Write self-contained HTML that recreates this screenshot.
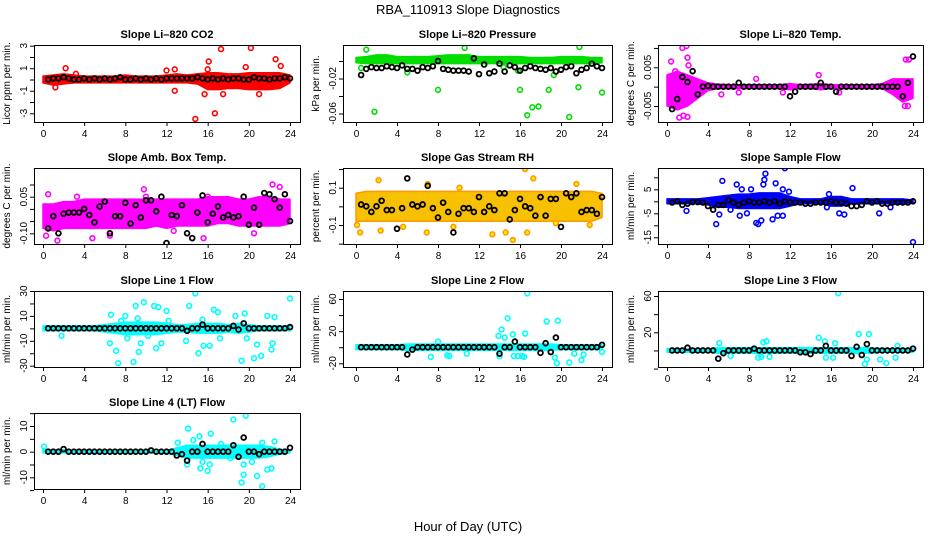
<!DOCTYPE html>
<html><head><meta charset="utf-8"><style>
html,body{margin:0;padding:0;background:#fff;}
svg{display:block;font-family:"Liberation Sans",sans-serif;}
</style></head><body>
<svg id="chart" width="936" height="540" viewBox="0 0 936 540">
<text x="468" y="14" text-anchor="middle" font-size="13">RBA_110913  Slope Diagnostics</text>
<text x="468" y="531" text-anchor="middle" font-size="13">Hour of Day (UTC)</text>
</svg>
<script>
const xTicks=[0,4,8,12,16,20,24];
const bandHours=[0,1,2,3,4,5,6,7,8,9,10,11,12,13,14,15,16,17,18,19,20,21,22,23,24];
const blackHours=[0.5,1,1.5,2,2.5,3,3.5,4,4.5,5,5.5,6,6.5,7,7.5,8,8.5,9,9.5,10,10.5,11,11.5,12,12.5,13,13.5,14,14.5,15,15.5,16,16.5,17,17.5,18,18.5,19,19.5,20,20.5,21,21.5,22,22.5,23,23.5,24];

// CO2
const co2Lo=[-0.3,-0.5,-0.4,-0.3,-0.3,-0.3,-0.3,-0.3,-0.3,-0.3,-0.3,-0.3,-0.3,-0.3,-0.3,-0.4,-0.9,-0.9,-0.8,-0.8,-0.9,-0.9,-0.9,-0.8,-0.3];
const co2Hi=[0.3,0.4,0.5,0.4,0.3,0.3,0.3,0.3,0.4,0.3,0.3,0.3,0.4,0.5,0.4,0.5,0.6,0.6,0.5,0.5,0.6,0.6,0.6,0.6,0.4];
const co2Out=[[2.2,1.0],[12.8,0.9],[12.8,-1.0],[14.8,-3.5],[16.1,1.6],[16.7,-3],[17.3,2.7],[20.2,2.8],[22.6,1.8],[21.0,-1.3],[17.5,-1.3],[15.7,-1.3],[12,0.8],[1.2,-0.7],[3.2,0.5],[16,0.9],[19.7,1.1],[23.1,1.2]];
const co2Blk=[0,0.1,0.1,0.2,0.1,0,0,0.1,0,0.1,0,0.1,0,0.1,0.2,0,0,0.1,0,0.1,0,0.1,0,0.1,0.1,0.1,0.1,0.1,0.1,0.2,0.1,0,0.1,0,0.1,0,0.1,0.1,0,0,0.2,0.1,0.1,0,0.1,0.1,0.2,0.1];
// Pressure
const prLo=[-0.002,-0.003,-0.003,-0.003,-0.003,-0.003,-0.003,-0.003,-0.003,-0.003,-0.003,-0.003,-0.003,-0.003,-0.003,-0.003,-0.003,-0.003,-0.003,-0.003,-0.003,-0.003,-0.003,-0.003,-0.002];
const prHi=[0.004,0.005,0.007,0.007,0.005,0.005,0.005,0.005,0.006,0.007,0.007,0.007,0.005,0.005,0.005,0.005,0.005,0.004,0.004,0.004,0.005,0.005,0.005,0.004,0.004];
const prOut=[[1.8,-0.058],[8,-0.033],[16,-0.033],[16.7,-0.062],[17.2,-0.053],[17.8,-0.052],[18.8,-0.033],[20.8,-0.064],[21.7,-0.03],[24,-0.036],[1.0,0.013],[10.6,0.015],[21.8,0.016],[5,-0.013],[19.3,-0.016],[15.8,-0.011],[0.5,-0.008],[14.4,-0.007]];
const prBlk=[-0.016,-0.009,-0.007,-0.008,-0.008,-0.006,-0.007,-0.008,-0.005,-0.009,-0.009,-0.011,-0.007,-0.008,-0.006,0,-0.009,-0.01,-0.011,-0.011,-0.011,-0.012,0.003,-0.015,-0.004,-0.014,-0.012,-0.003,-0.012,-0.005,-0.007,-0.011,-0.008,-0.006,-0.008,-0.009,-0.01,-0.008,-0.012,-0.01,-0.007,-0.006,-0.014,-0.01,-0.008,-0.003,-0.006,-0.008];
// Li-820 temp
const tpLo=[-0.005,-0.006,-0.005,-0.003,-0.001,-0.0005,-0.0005,-0.0005,-0.0005,-0.0005,-0.0005,-0.0005,-0.0008,-0.0005,-0.0005,-0.0008,-0.0005,-0.0005,-0.0005,-0.0005,-0.0005,-0.0005,-0.002,-0.004,-0.003];
const tpHi=[0.003,0.004,0.003,0.002,0.001,0.0006,0.0005,0.0005,0.0005,0.0005,0.0005,0.0005,0.0008,0.0005,0.0006,0.0008,0.0005,0.0005,0.0005,0.0005,0.0005,0.0008,0.002,0.002,0.002];
const tpOut=[[1.5,0.010],[1.9,0.0105],[2.0,0.0075],[2.1,0.0055],[0.4,0.0065],[1.6,-0.0075],[2,-0.0078],[1.2,-0.008],[1,-0.005],[23.3,0.007],[23.6,0.007],[23.2,-0.005],[23.5,-0.005],[14.8,0.003],[8.7,0.002],[5.3,-0.002],[7,-0.0015],[16.8,-0.0015],[11.3,-0.0015],[0.8,0.004]];
const tpBlk=[-0.0058,-0.0032,0.0025,0.0012,0.004,-0.002,0,0.0002,0,0,0,0,0,0.001,0,0,0,0,0,0,0,0,0,-0.0025,-0.0013,0,0,0,0,0.001,0,0,-0.0013,0,0,0,0,0,0,0,0,0,0,0,0,-0.0025,0.001,0.0078];
// Amb box temp
const abLo=[-0.08,-0.09,-0.08,-0.08,-0.08,-0.08,-0.08,-0.08,-0.08,-0.08,-0.08,-0.07,-0.08,-0.07,-0.07,-0.07,-0.07,-0.06,-0.06,-0.07,-0.07,-0.07,-0.07,-0.07,-0.06];
const abHi=[0.02,0.02,0.03,0.03,0.04,0.04,0.04,0.04,0.04,0.04,0.04,0.04,0.04,0.04,0.04,0.04,0.05,0.05,0.05,0.04,0.04,0.05,0.05,0.04,0.04];
const abOut=[[0.5,0.06],[9.8,0.08],[23,0.09],[1.4,-0.13],[0.3,-0.11],[4.8,-0.12],[15.6,-0.12],[22.3,0.1],[16,0.05],[10,0.05],[3.3,0.05],[6.5,-0.11],[20.5,-0.1],[12.7,-0.09]];
const abBlk=[-0.08,-0.03,-0.1,-0.02,-0.015,-0.015,-0.015,0,-0.025,-0.055,0.01,0.03,-0.1,-0.03,-0.03,0.025,-0.06,0.015,-0.035,0.035,0.035,-0.01,0.05,-0.14,-0.025,-0.03,0.015,-0.1,-0.12,-0.015,0.055,-0.055,-0.02,0.01,-0.035,-0.025,-0.035,-0.03,0.05,-0.065,0.005,-0.065,0.065,0.06,0.04,0.005,0.06,-0.05];
// Gas stream RH
const rhLo=[-0.08,-0.08,-0.08,-0.08,-0.08,-0.08,-0.08,-0.08,-0.08,-0.08,-0.08,-0.08,-0.08,-0.08,-0.08,-0.08,-0.08,-0.08,-0.08,-0.08,-0.08,-0.08,-0.08,-0.08,-0.06];
const rhHi=[0.07,0.08,0.08,0.08,0.08,0.08,0.08,0.08,0.08,0.08,0.08,0.08,0.08,0.08,0.08,0.08,0.08,0.08,0.08,0.08,0.08,0.08,0.08,0.08,0.07];
const rhOut=[[0.4,-0.14],[2.2,0.14],[2.4,-0.13],[6.9,-0.14],[7,0.12],[13.3,-0.15],[14.6,-0.14],[15.3,-0.18],[16.5,0.2],[16.7,-0.14],[17.3,0.15],[0.1,-0.1],[19.5,-0.09],[22.8,-0.1],[21.5,0.12],[10.1,0.1],[4.6,-0.11],[9.5,-0.11]];
const rhBlk=[0.01,0,-0.03,0,0.03,-0.02,-0.02,-0.12,-0.01,0.15,0.01,0,0.01,0.11,-0.01,-0.06,0.02,-0.03,-0.14,-0.04,-0.01,-0.01,-0.03,0.05,-0.03,0,-0.02,0.07,0.07,-0.07,-0.02,0.04,0,-0.01,-0.05,0.05,-0.05,0.04,0.04,-0.11,0.07,0.05,0.07,-0.03,-0.02,-0.02,-0.04,0.05];
// Sample flow
const sfLo=[-1,-1,-1,-1,-1.5,-2.5,-2.5,-3,-3,-3,-3,-3,-2,-1,-1,-1,-2,-2,-1,-1,-1,-1,-1,-1,-0.5];
const sfHi=[1,1,1,1,1.5,2,2.5,3,3,3.5,3.5,3.5,2,1,1,1,2,2,1,1,1,1,1,1,0.5];
const sfOut=[[1.9,-4],[5.4,8.5],[6.8,7],[4.8,-9.5],[5.1,-5.5],[7.3,5],[7.1,-6],[7.8,-5],[8.2,5],[8.7,-9],[8.9,-9.5],[9.2,-8],[9.4,7],[9.6,11.5],[9.5,9],[10.3,-7.5],[10.6,7.5],[10.8,-6],[11.3,-6],[11.5,13.8],[11.3,5],[11.9,4],[6.2,-3.5],[15.8,3],[16.8,-5],[17.3,-5.5],[18.1,5.5],[20.7,-5],[24,-17],[15.6,-2.5],[21.8,-2.5]];
const sfBlk=[-0.5,0,-1.5,-1,-0.3,-0.3,-0.5,-2,-3.5,-1.5,-1.5,0.5,-0.5,-1.5,-0.5,0,-0.5,-0.5,0,-0.5,0,-1,0,-0.5,-0.5,-0.5,-1,-1,-0.5,-0.5,-0.5,0,-0.5,-0.5,-1,-2,-2,-1.5,0,-0.5,0,-1,-1,-0.5,-0.5,-0.5,-0.5,0];
// Line 1 flow
const l1Lo=[-2,-2,-2,-2,-2,-2,-3,-4,-5,-5,-5,-5,-4,-3,-3,-4,-4,-4,-3,-4,-3,-2,-2,-2,-2];
const l1Hi=[2,2,2,2,2,2,3,4,5,5,5,5,4,3,3,4,4,4,3,4,3,2,2,2,2];
const l1Out=[[1.8,-6],[6.5,-12],[6.6,11],[7.1,-18],[7.3,-28],[8,10],[8.2,-8],[8.8,-27],[9,18],[9.3,-19],[9.5,-12],[9.8,21],[10.8,18],[11,-16],[11.2,17],[11.5,-12],[12,14],[12.2,6],[13.9,-10],[14.2,18],[14.8,28],[15.1,-20],[15.6,-14],[16.2,-14],[16.6,15],[17,13],[17.2,-8],[18.7,10],[19.3,-26],[19.6,12],[19.8,-8],[20.5,-24],[20.8,-13],[21.2,-22],[21.8,10],[22.2,-17],[22.5,9],[22.3,-12],[24,24],[9.2,8],[10.2,-6],[7.6,6],[15.5,7]];
const l1Blk=[0,0,0,0,0,0,0,0,0,0,0,0,0,0,0,0,0,0,0,0,0,0,0,0,0,0,0,-2,0,0,3,0,0,0,0,0,2,-1,4,0,0,0,0,0,0,0,0,1];
// Line 2 flow
const l2Lo=[-3,-3,-3,-3,-3,-4,-4,-4,-4,-4,-4,-4,-4,-4,-4,-4,-4,-4,-4,-4,-3,-3,-3,-3,-3];
const l2Hi=[3,3,3,3,3,4,4,4,4,4,4,4,4,4,4,4,4,4,4,4,3,3,3,3,3];
const l2Out=[[7.3,-12],[8,7],[8.9,-10],[9.1,-11],[10.8,-8],[13.9,14],[14,-11],[14.2,22],[14.5,12],[14.8,36],[15.4,-11],[15.8,-11],[16.2,-11],[16.5,17],[16.7,67],[18.6,32],[19.7,33],[19.6,-20],[19.4,-13],[20.8,-19],[21.3,-8],[22,-16],[22.2,-9],[24,-6],[15.3,16],[16.4,-12]];
const l2Blk=[0,0,0,0,0,0,0,0,0,-9,-3,0,0,0,0,0,0,0,0,0,0,0,0,0,0,0,0,-8,0,0,7,0,0,0,0,-7,5,-6,12,0,0,0,0,0,0,0,0,3];
// Line 3 flow
const l3Lo=[-2,-2,-2,-2,-2,-3,-3,-3,-3,-3,-3,-3,-3,-3,-3,-3,-3,-3,-3,-3,-3,-2,-2,-2,-2];
const l3Hi=[2,2,2,2,2,3,3,3,3,3,3,3,3,3,3,3,3,3,3,3,3,2,2,2,2];
const l3Out=[[5.1,8],[6.2,-6],[8.9,-8],[9.2,-7],[9.4,9],[9.7,10],[10,-7],[14.8,14],[15.4,10],[15.5,-8],[16.2,-8],[16.4,8],[16.7,63],[18.7,18],[19.7,18],[19.5,-10],[19.3,-15],[20.8,-10],[21.4,-14],[22.3,-8],[22.5,5]];
const l3Blk=[0,0,0,3,0,0,0,0,0,-9,-3,0,0,0,0,0,2,0,0,0,0,0,0,0,0,-2,-2,-4,0,0,5,0,0,0,0,-6,4,-5,7,0,0,0,0,0,0,0,0,2];
// Line 4 flow
const l4Lo=[-0.5,-0.5,-0.5,-0.5,-0.5,-0.5,-0.5,-0.5,-0.5,-0.5,-0.5,-0.5,-0.5,-1.5,-2.5,-2.5,-2.5,-2.5,-2.5,-2.5,-2.5,-2.5,-2,-1,-0.5];
const l4Hi=[1,0.5,0.8,0.5,0.5,0.5,0.5,0.5,0.5,0.5,0.5,0.5,0.5,1.5,2.5,2.5,2.5,2.5,2.5,2.5,2.5,2.5,2,1,0.5];
const l4Out=[[14.1,9],[14,-5],[14.6,4.5],[15.2,6],[15.3,-6.5],[15.5,-4],[16,-7.5],[16.2,-5],[16.3,7],[17.3,3],[18.5,12.5],[19.3,-12],[19.5,-5],[19.5,-9],[19.7,14],[20.3,-4],[20.8,-9.5],[21.3,-13.5],[21.3,3.5],[21.8,-7],[22.2,-6.5],[22.5,4],[18.2,-2.5],[0.1,2],[13.1,3.5]];
const l4Blk=[0,0,0,1,0,0,0,0,0,0,0,0,0,0,0,0,0,0,0,0,0.5,0,0,0,0,-1.5,-1,-3.5,0,0,3,0,0,0,0,0,2.5,-2,5.5,0,0,-1,0,0,0,0,0,1.5];

const panels=[
 {id:'co2',title:'Slope Li\u2013820 CO2',ylab:'Licor ppm per min.',col:'#ff0000',fill:'#ff0000',bx:[34,300],by:[45,122],xp:[43,290],yv:[3,-3],yp:[45.7,113.3],ticks:[3,2,1,0,-1,-2,-3],labels:['3','1','-1','-3'],lv:[3,1,-1,-3],lo:co2Lo,hi:co2Hi,out:co2Out,blk:co2Blk},
 {id:'pressure',title:'Slope Li\u2013820 Pressure',ylab:'kPa per min.',col:'#00dd00',fill:'#00dd00',bx:[343,612],by:[45,122],xp:[356,602],yv:[0,-0.06],yp:[61,113.5],ticks:[0,-0.02,-0.04,-0.06],labels:['-0.02','-0.06'],lv:[-0.02,-0.06],lo:prLo,hi:prHi,out:prOut,blk:prBlk},
 {id:'li820-temp',title:'Slope Li\u2013820 Temp.',ylab:'degrees C per min.',col:'#ff00ff',fill:'#ff00ff',bx:[658,923],by:[45,122],xp:[667,913],yv:[0.005,-0.005],yp:[67.3,106],ticks:[0.01,0.005,0,-0.005],labels:['0.005','-0.005'],lv:[0.005,-0.005],lo:tpLo,hi:tpHi,out:tpOut,blk:tpBlk},
 {id:'amb-box-temp',title:'Slope Amb. Box Temp.',ylab:'degrees C per min.',col:'#ff00ff',fill:'#ff00ff',bx:[34,300],by:[168,244],xp:[43,290],yv:[0.05,-0.1],yp:[196.7,233.3],ticks:[0.1,0.05,0,-0.05,-0.1],labels:['0.05','-0.10'],lv:[0.05,-0.1],lo:abLo,hi:abHi,out:abOut,blk:abBlk},
 {id:'gas-stream-rh',title:'Slope Gas Stream RH',ylab:'percent per min.',col:'#ff9900',fill:'#f7c000',bx:[343,612],by:[168,244],xp:[356,602],yv:[0.1,-0.1],yp:[187.7,225],ticks:[0.2,0.1,0,-0.1,-0.2],labels:['0.1','-0.1'],lv:[0.1,-0.1],lo:rhLo,hi:rhHi,out:rhOut,blk:rhBlk},
 {id:'sample-flow',title:'Slope Sample Flow',ylab:'ml/min per min.',col:'#0000ff',fill:'#0000ff',bx:[658,923],by:[168,244],xp:[667,913],yv:[5,-15],yp:[189.3,237.3],ticks:[10,5,0,-5,-10,-15],labels:['5','-5','-15'],lv:[5,-5,-15],lo:sfLo,hi:sfHi,out:sfOut,blk:sfBlk},
 {id:'line1-flow',title:'Slope Line 1 Flow',ylab:'ml/min per min.',col:'#00ffff',fill:'#00ffff',bx:[34,300],by:[291,367],xp:[43,290],yv:[30,-30],yp:[291,365.7],ticks:[30,20,10,0,-10,-20,-30],labels:['30','10','-10','-30'],lv:[30,10,-10,-30],lo:l1Lo,hi:l1Hi,out:l1Out,blk:l1Blk},
 {id:'line2-flow',title:'Slope Line 2 Flow',ylab:'ml/min per min.',col:'#00ffff',fill:'#00ffff',bx:[343,612],by:[291,367],xp:[356,602],yv:[60,-20],yp:[299,363.3],ticks:[60,40,20,0,-20],labels:['60','20','-20'],lv:[60,20,-20],lo:l2Lo,hi:l2Hi,out:l2Out,blk:l2Blk},
 {id:'line3-flow',title:'Slope Line 3 Flow',ylab:'ml/min per min.',col:'#00ffff',fill:'#00ffff',bx:[658,923],by:[291,367],xp:[667,913],yv:[60,20],yp:[296,332.3],ticks:[60,40,20,0,-20],labels:['60','20'],lv:[60,20],lo:l3Lo,hi:l3Hi,out:l3Out,blk:l3Blk},
 {id:'line4-flow',title:'Slope Line 4 (LT) Flow',ylab:'ml/min per min.',col:'#00ffff',fill:'#00ffff',bx:[34,300],by:[413,489],xp:[43,290],yv:[10,-10],yp:[426,477.3],ticks:[15,10,5,0,-5,-10,-15],labels:['10','0','-10'],lv:[10,0,-10],lo:l4Lo,hi:l4Hi,out:l4Out,blk:l4Blk}
];

const NS='http://www.w3.org/2000/svg';
const svg=document.getElementById('chart');
function mk(tag,attrs,parent){const e=document.createElementNS(NS,tag);for(const k in attrs)e.setAttribute(k,attrs[k]);parent.appendChild(e);return e;}

panels.forEach(p=>{
  const g=mk('g',{},svg);
  
  
  const xs=h=>p.xp[0]+(h/24)*(p.xp[1]-p.xp[0]);
  const ys=v=>p.yp[0]+(v-p.yv[0])*(p.yp[1]-p.yp[0])/(p.yv[1]-p.yv[0]);
  const cx=(p.bx[0]+p.bx[1])/2, cy=(p.by[0]+p.by[1])/2;
  const clipId='clip-'+p.id;
  const cp=mk('clipPath',{id:clipId},g);
  mk('rect',{x:p.bx[0],y:p.by[0],width:p.bx[1]-p.bx[0],height:p.by[1]-p.by[0]},cp);
  const t=mk('text',{x:cx,y:p.by[0]-7,'text-anchor':'middle','font-size':'11','font-weight':'bold'},g);
  t.textContent=p.title;
  
  
  const yl=mk('text',{x:0,y:0,'text-anchor':'middle','font-size':'10',transform:`translate(${p.bx[0]-24},${cy}) rotate(-90)`},g);
  yl.textContent=p.ylab;
  
  
  const plot=mk('g',{'clip-path':`url(#${clipId})`},g);
  
  
  let pts=bandHours.map((h,i)=>`${xs(h).toFixed(1)},${ys(p.hi[i]).toFixed(1)}`);
  for(let i=bandHours.length-1;i>=0;i--)pts.push(`${xs(bandHours[i]).toFixed(1)},${ys(p.lo[i]).toFixed(1)}`);
  const band=mk('polygon',{points:pts.join(' '),fill:p.fill,stroke:p.col,'stroke-width':'1.5','stroke-linejoin':'round'},plot);
  
  
  p.out.forEach(o=>{
    const c=mk('circle',{cx:xs(o[0]),cy:ys(o[1]),r:2.4,fill:p.id==='gas-stream-rh'?'#ffee00':'none',stroke:p.col,'stroke-width':'1.6'},plot);
    
    
  });
  p.blk.forEach((v,i)=>{
    const c=mk('circle',{cx:xs(blackHours[i]),cy:ys(v),r:2.4,fill:'none',stroke:'#000','stroke-width':'1.8'},plot);
    
    
  });
  const fr=mk('rect',{x:p.bx[0]+0.5,y:p.by[0]+0.5,width:p.bx[1]-p.bx[0],height:p.by[1]-p.by[0],fill:'none',stroke:'#000','stroke-width':'1'},g);
  
  
  xTicks.forEach(h=>{
    const x=xs(h)+0.5;
    mk('line',{x1:x,x2:x,y1:p.by[1],y2:p.by[1]+4,stroke:'#000'},g);
    const l=mk('text',{x:x,y:p.by[1]+15,'text-anchor':'middle','font-size':'10'},g);
    l.textContent=h;
    
    
  });
  p.ticks.forEach(v=>{
    const y=ys(v)+0.5;
    mk('line',{x1:p.bx[0]-4,x2:p.bx[0],y1:y,y2:y,stroke:'#000'},g);
  });
  p.lv.forEach((v,i)=>{
    const l=mk('text',{x:0,y:0,'text-anchor':'middle','font-size':'10',transform:`translate(${p.bx[0]-7},${ys(v)}) rotate(-90)`},g);
    l.textContent=p.labels[i];
    
    
  });
});
</script>
</body></html>
